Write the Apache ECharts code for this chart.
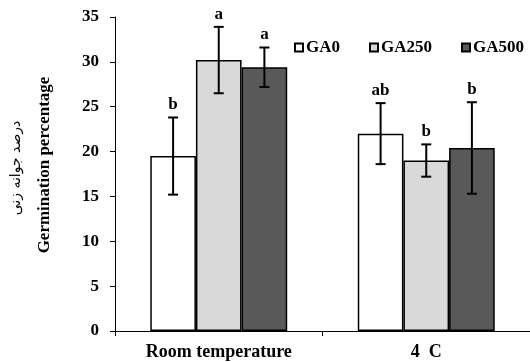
<!DOCTYPE html>
<html>
<head>
<meta charset="utf-8">
<script src="https://cdn.jsdelivr.net/npm/echarts@6/dist/echarts.min.js"></script>
<style>
  html, body { margin: 0; padding: 0; background: #fff; }
  #chart { width: 530px; height: 362px; }
</style>
</head>
<body>
<div id="chart"></div>
<script>
var categories = ['Room temperature', '4  C']
var seriesNames = ['GA0', 'GA250', 'GA500']
var ga0 = [19.5, 22.0]
var ga250 = [30.2, 19.0]
var ga500 = [29.4, 20.4]
var ga0Err = [4.3, 3.4]
var ga250Err = [3.7, 1.8]
var ga500Err = [2.2, 5.1]
var ga0Letters = ['b', 'ab']
var ga250Letters = ['a', 'b']
var ga500Letters = ['a', 'b']
var yTicks = [0, 5, 10, 15, 20, 25, 30, 35]

var serif = '"Liberation Serif", "DejaVu Serif", serif'
var barFrac = 0.22 // bar width as share of category

var groups = [
  { name: 'GA0', values: ga0, err: ga0Err, letters: ga0Letters, color: '#ffffff' },
  { name: 'GA250', values: ga250, err: ga250Err, letters: ga250Letters, color: '#d9d9d9' },
  { name: 'GA500', values: ga500, err: ga500Err, letters: ga500Letters, color: '#595959' }
]

var chart = echarts.init(document.getElementById('chart'))

var series = []
groups.forEach(function(g) {
  series.push({
    name: g.name,
    type: 'bar',
    data: g.values,
    barWidth: (barFrac * 100) + '%',
    barGap: '0%',
    itemStyle: { color: g.color, borderColor: '#000', borderWidth: 1.5 }
  })
})

// error bars + letters
groups.forEach(function(g, gi) {
  var data = g.values.map(function(v, i) {
    return [i, v, g.err[i], g.letters[i]]
  })
  series.push({
    type: 'custom',
    name: g.name + '_err',
    z: 10,
    data: data,
    renderItem: function(params, api) {
      var cat = api.value(0)
      var val = api.value(1)
      var e = api.value(2)
      var catW = api.size([1, 0])[0]
      var dx = (gi - 1) * catW * barFrac
      var hi = api.coord([cat, val + e])
      var lo = api.coord([cat, val - e])
      var x = hi[0] + dx
      var cap = 5
      var st = { stroke: '#000', lineWidth: 2 }
      return {
        type: 'group',
        children: [
          { type: 'line', shape: { x1: x, y1: hi[1], x2: x, y2: lo[1] }, style: st },
          { type: 'line', shape: { x1: x - cap, y1: hi[1], x2: x + cap, y2: hi[1] }, style: st },
          { type: 'line', shape: { x1: x - cap, y1: lo[1], x2: x + cap, y2: lo[1] }, style: st },
          {
            type: 'text',
            style: {
              x: x, y: hi[1] - 4,
              text: data[params.dataIndex][3],
              align: 'center', verticalAlign: 'bottom',
              font: 'bold 17px ' + serif, fill: '#000'
            }
          }
        ]
      }
    }
  })
})

chart.setOption({
  animation: false,
  backgroundColor: '#fff',
  legend: {
    data: seriesNames,
    left: 289,
    top: 34,
    width: 260,
    icon: 'rect',
    itemWidth: 8,
    itemHeight: 8,
    itemGap: 29,
    textStyle: { fontFamily: serif, fontWeight: 'bold', fontSize: 17, color: '#000', padding: [0, 0, 0, -2] }
  },
  grid: { left: 115, top: 17, bottom: 31, width: 422 },
  xAxis: {
    type: 'category',
    data: categories,
    axisLine: { lineStyle: { color: '#000', width: 1 } },
    axisTick: { show: true, length: 5, lineStyle: { color: '#000' } },
    axisLabel: { fontFamily: serif, fontWeight: 'bold', fontSize: 18, color: '#000', margin: 12 }
  },
  yAxis: {
    type: 'value',
    min: yTicks[0],
    max: yTicks[yTicks.length - 1],
    interval: 5,
    splitLine: { show: false },
    axisLine: { show: true, lineStyle: { color: '#000', width: 1 } },
    axisTick: { show: true, length: 5, lineStyle: { color: '#000' } },
    axisLabel: { fontFamily: serif, fontWeight: 'bold', fontSize: 17, color: '#000', margin: 16 }
  },
  graphic: [
    {
      type: 'text',
      x: 45, y: 165,
      rotation: Math.PI / 2,
      style: {
        text: 'Germination percentage',
        font: 'bold 17px ' + serif,
        fill: '#000', align: 'center', verticalAlign: 'middle'
      }
    },
    {
      type: 'text',
      x: 16, y: 168,
      rotation: Math.PI / 2,
      style: {
        text: 'درصد جوانه زنی',
        font: '14px "DejaVu Sans", sans-serif',
        fill: '#000', align: 'center', verticalAlign: 'middle'
      }
    }
  ],
  series: series
})
</script>
</body>
</html>
